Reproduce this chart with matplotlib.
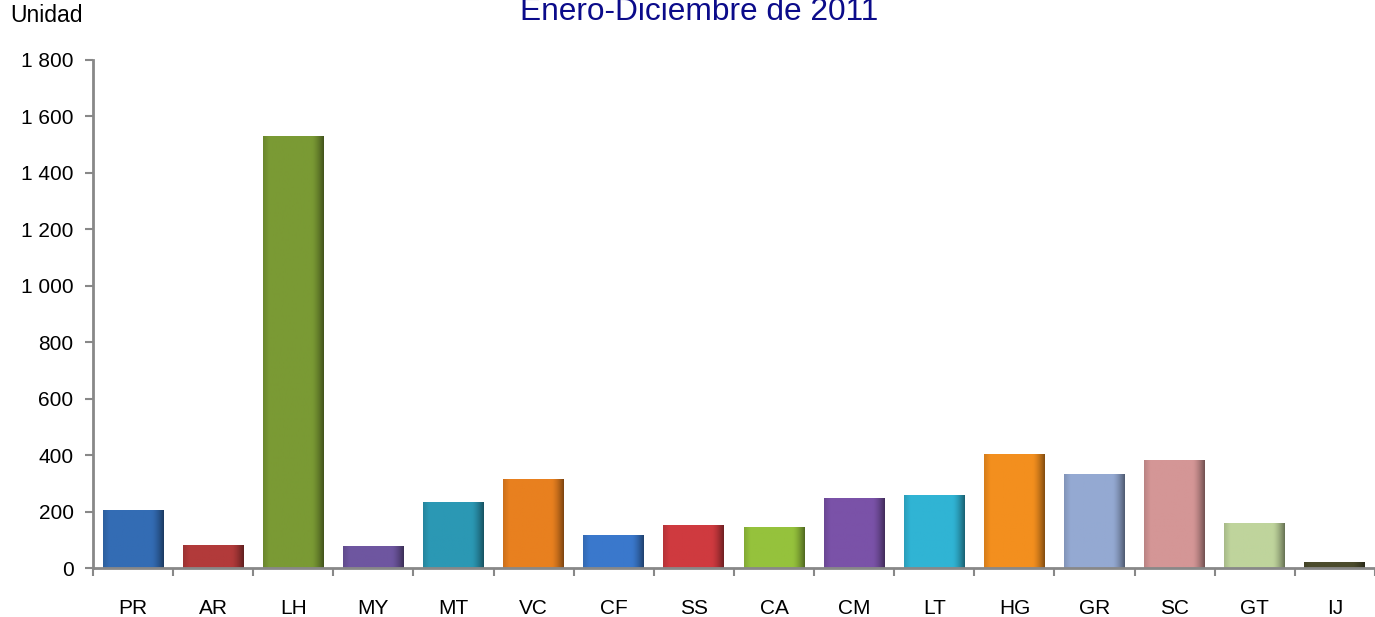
import matplotlib.pyplot as plt
import numpy as np
from matplotlib.colors import to_rgb
from matplotlib.ticker import FixedLocator, FuncFormatter

categories = ["PR", "AR", "LH", "MY", "MT", "VC", "CF", "SS",
              "CA", "CM", "LT", "HG", "GR", "SC", "GT", "IJ"]
values = [205, 81, 1531, 78, 234, 315, 117, 152,
          145, 248, 259, 404, 333, 383, 159, 21]
colors = ["#336cb4", "#b23a3a", "#7a9a34", "#6e56a0", "#2b98b4", "#e8801f",
          "#3a78cc", "#cf3a3f", "#95c23c", "#7a52a8", "#30b4d4", "#f38f1e",
          "#94a9d2", "#d49696", "#bfd49c", "#4b4b2c"]

plt.rcParams['font.family'] = ['Liberation Sans', 'DejaVu Sans']

fig = plt.figure(figsize=(13.75, 6.17), dpi=100)
ax = fig.add_axes([0.0676, 0.0794, 0.9324, 0.8234])

x = np.arange(len(categories))
bars = ax.bar(x, values, width=0.76, color=colors, zorder=2)

# simple bevel look: horizontal shading, darker towards the right edge
t = np.linspace(0, 1, 64)
shade = 1.0 - 0.45 * np.clip((t - 0.8) / 0.2, 0, 1) ** 1.5 - 0.12 * np.clip((0.1 - t) / 0.1, 0, 1)
for b, c in zip(bars, colors):
    rgb = np.array(to_rgb(c))
    img = (shade[:, None] * rgb[None, :])[None, :, :]
    x0, w, h = b.get_x(), b.get_width(), b.get_height()
    im = ax.imshow(img, extent=[x0, x0 + w, 0, h], aspect='auto', zorder=3,
                   interpolation='bilinear')
    im.set_clip_path(b)

ax.set_xlim(-0.5, len(categories) - 0.5)
ax.set_ylim(0, 1800)
ax.yaxis.set_major_locator(FixedLocator(np.arange(0, 1801, 200)))
ax.yaxis.set_major_formatter(FuncFormatter(lambda v, p: f"{int(v):,}".replace(",", " ")))

ax.set_xticks(x)
ax.set_xticklabels(categories)
ax.set_xticks(np.arange(-0.5, len(categories), 1), minor=True)
ax.tick_params(axis='x', which='major', length=0, pad=22, labelsize=15)
ax.tick_params(axis='x', which='minor', length=6, width=1.5, color='#888888', direction='out')
ax.tick_params(axis='y', length=6, width=1.5, color='#888888', labelsize=15, pad=8)

for s in ['top', 'right']:
    ax.spines[s].set_visible(False)
for s in ['left', 'bottom']:
    ax.spines[s].set_color('#888888')
    ax.spines[s].set_linewidth(2)
    ax.spines[s].set_zorder(4)

fig.text(10 / 1375, 1 - 16 / 617, "Unidad", fontsize=16.5, va='center', ha='left')
fig.text(699 / 1375, 1 - 20 / 617, "Enero-Diciembre de 2011", fontsize=22.8,
         color='#0b0b8a', ha='center', va='baseline')

fig.savefig("out.png", dpi=100)
